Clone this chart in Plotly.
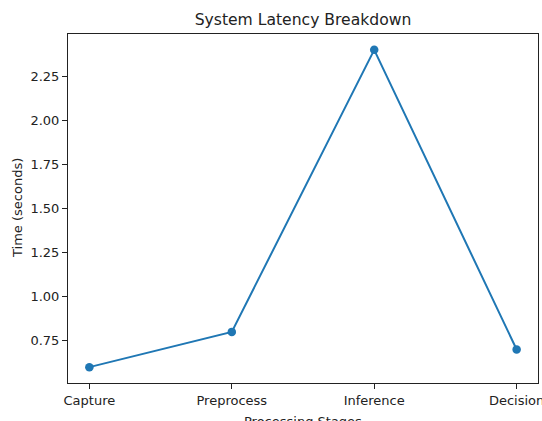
import plotly.graph_objects as go

stages = ["Capture", "Preprocess", "Inference", "Decision"]
times = [0.6, 0.8, 2.4, 0.7]
y_ticks = [0.75, 1.00, 1.25, 1.50, 1.75, 2.00, 2.25]
y_tick_text = ["0.75", "1.00", "1.25", "1.50", "1.75", "2.00", "2.25"]

fig = go.Figure()
fig.add_trace(go.Scatter(
    x=list(range(len(stages))), y=times, mode="lines+markers",
    line=dict(color="#1f77b4", width=2),
    marker=dict(color="#1f77b4", size=8.5),
    showlegend=False, cliponaxis=False,
))

font = "DejaVu Sans, sans-serif"
fig.update_layout(
    width=542, height=421,
    margin=dict(l=68, r=4, t=34, b=38),
    paper_bgcolor="white", plot_bgcolor="white",
    font=dict(family=font, size=13, color="#222"),
    title=dict(text="System Latency Breakdown", x=0.5, xanchor="center",
               xref="paper", y=1 - 20 / 421, yanchor="middle",
               font=dict(size=15.6, color="#222")),
)
fig.update_xaxes(
    range=[-0.15, 3.15], tickmode="array",
    tickvals=list(range(len(stages))), ticktext=stages,
    showgrid=False, zeroline=False,
    showline=True, linecolor="#222", linewidth=1, mirror=True,
    ticks="outside", ticklen=5, tickcolor="#222",
    tickfont=dict(size=13), ticklabeloverflow="allow",
    automargin=False,
)
fig.update_yaxes(
    range=[0.51, 2.49], tickmode="array",
    tickvals=y_ticks, ticktext=y_tick_text,
    showgrid=False, zeroline=False,
    showline=True, linecolor="#222", linewidth=1, mirror=True,
    ticks="outside", ticklen=5, tickcolor="#222",
    tickfont=dict(size=13), ticklabeloverflow="allow",
    automargin=False,
)
fig.add_annotation(text="Processing Stages", xref="paper", yref="paper",
                   x=0.5, y=0, xanchor="center", yanchor="middle",
                   yshift=-38, showarrow=False, font=dict(size=13))
fig.add_annotation(text="Time (seconds)", xref="paper", yref="paper",
                   x=0, y=0.5, xanchor="center", yanchor="middle",
                   xshift=-(68 - 17.5), textangle=-90, showarrow=False,
                   font=dict(size=13))

fig.write_html("out.html", config={"displayModeBar": False},
               post_script="document.body.style.margin='0';")
